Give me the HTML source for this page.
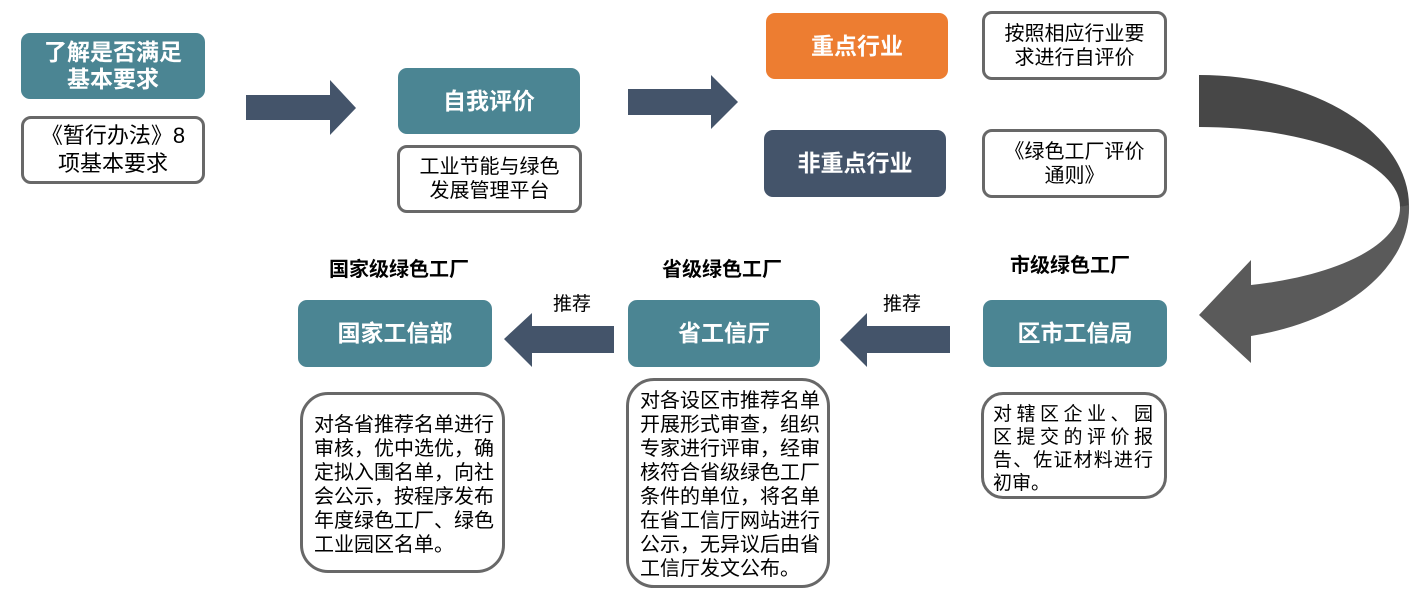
<!DOCTYPE html>
<html><head><meta charset="utf-8"><style>
*{margin:0;padding:0;box-sizing:border-box}
html,body{width:1411px;height:595px;background:#fff;overflow:hidden}
body{position:relative;font-family:"Liberation Sans","Noto Sans CJK SC",sans-serif;color:#000}
.b{position:absolute;display:flex;align-items:center;justify-content:center;text-align:center}
.f{color:#fff;font-weight:bold;font-size:23px;line-height:27px}
.t{background:#4b8593;border-radius:9px}
.w{background:#fff;border:3.5px solid #686868;border-radius:10px;font-size:20px;line-height:24px}
.lbl{position:absolute;font-weight:bold;font-size:20px;line-height:24px;text-align:center;white-space:nowrap}
.rec{position:absolute;font-size:19px;line-height:24px;white-space:nowrap}
.d{position:absolute;background:#fff;border:3.5px solid #686868;border-radius:28px;font-size:20px;line-height:24px;text-align:left;white-space:nowrap}
.j{display:block;text-align:justify;text-align-last:justify}
</style></head><body>
<svg width="1411" height="595" style="position:absolute;left:0;top:0">
<polygon points="246,95 330,95 330,80 356,108 330,135 330,120 246,120" fill="#44546a"/>
<polygon points="628,89 711,89 711,75 738,102 711,129 711,115 628,115" fill="#44546a"/>
<polygon points="614,326 532,326 532,313 504,339 532,367 532,353 614,353" fill="#44546a"/>
<polygon points="950,326 867,326 867,313 840,340 867,367 867,353 950,353" fill="#44546a"/>
<path d="M1199,75 A210,131 0 0 1 1409,206 L1400,207 A201,80 0 0 0 1199,127 Z" fill="#474747"/>
<path d="M1409,205 A210,132 0 0 1 1251,336 L1251,363 L1199,315 L1251,260 L1251,285 A201,80 0 0 0 1400,207 Z" fill="#5a5a5a"/>
</svg>

<div class="b t f" style="left:21px;top:33px;width:184px;height:66px">了解是否满足<br>基本要求</div>
<div class="b w" style="left:21px;top:116px;width:184px;height:68px;font-size:22px;line-height:28px">《暂行办法》8<br>项基本要求</div>

<div class="b t f" style="left:398px;top:68px;width:182px;height:66px">自我评价</div>
<div class="b w" style="left:397px;top:145px;width:185px;height:68px">工业节能与绿色<br>发展管理平台</div>

<div class="b f" style="left:766px;top:13px;width:182px;height:66px;background:#ed7d31;border-radius:9px">重点行业</div>
<div class="b f" style="left:764px;top:130px;width:182px;height:67px;background:#44546a;border-radius:9px">非重点行业</div>

<div class="b w" style="left:982px;top:11px;width:185px;height:69px">按照相应行业要<br>求进行自评价</div>
<div class="b w" style="left:982px;top:129px;width:185px;height:69px">《绿色工厂评价<br>通则》</div>

<div class="lbl" style="left:299px;top:258px;width:200px">国家级绿色工厂</div>
<div class="lbl" style="left:622px;top:258px;width:200px">省级绿色工厂</div>
<div class="lbl" style="left:970px;top:254px;width:200px">市级绿色工厂</div>

<div class="b t f" style="left:298px;top:300px;width:194px;height:67px">国家工信部</div>
<div class="b t f" style="left:628px;top:300px;width:192px;height:67px">省工信厅</div>
<div class="b t f" style="left:983px;top:300px;width:184px;height:67px">区市工信局</div>

<div class="rec" style="left:553px;top:293px">推荐</div>
<div class="rec" style="left:883px;top:293px">推荐</div>

<div class="d" style="left:300px;top:392px;width:205px;height:181px;padding:18px 0 0 11px">对各省推荐名单进行<br>审核，优中选优，确<br>定拟入围名单，向社<br>会公示，按程序发布<br>年度绿色工厂、绿色<br>工业园区名单。</div>

<div class="d" style="left:626px;top:378px;width:204px;height:210px;padding:8px 0 0 11px">对各设区市推荐名单<br>开展形式审查，组织<br>专家进行评审，经审<br>核符合省级绿色工厂<br>条件的单位，将名单<br>在省工信厅网站进行<br>公示，无异议后由省<br>工信厅发文公布。</div>

<div class="d" style="left:981px;top:392px;width:186px;height:107px;border-radius:22px;padding:8px 0 0 9px;font-size:19px;line-height:23px">
<div style="width:160px"><span class="j">对辖区企业、园</span><span class="j">区提交的评价报</span><span class="j">告、佐证材料进行</span><span style="display:block">初审。</span></div>
</div>
</body></html>
